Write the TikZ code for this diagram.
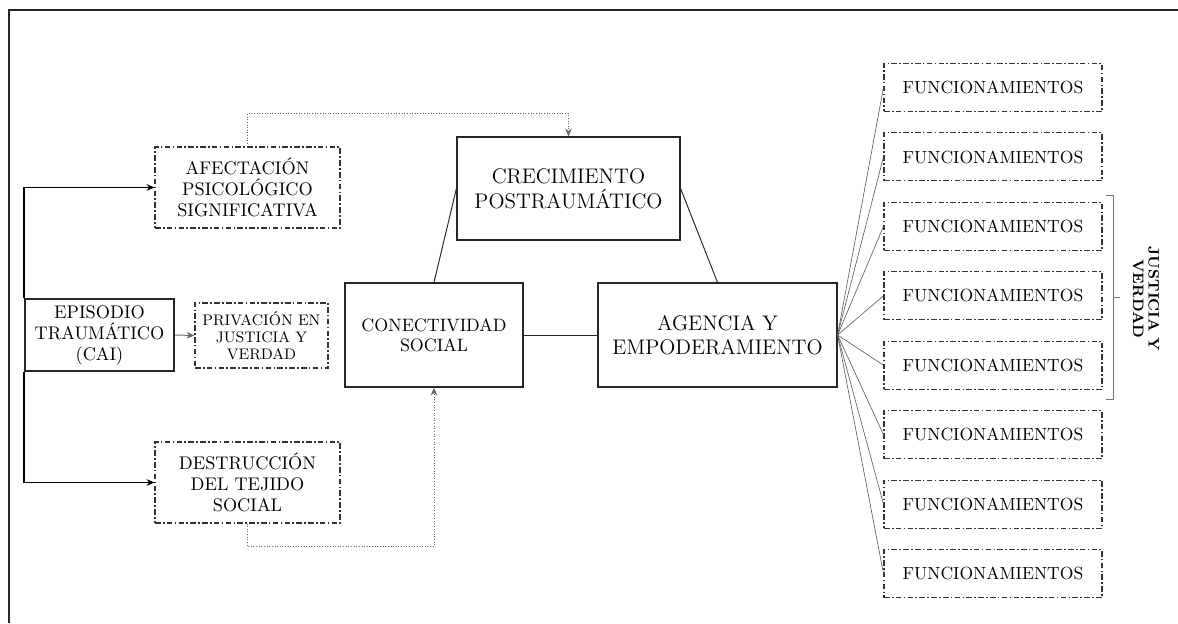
\documentclass[tikz,border=0pt]{standalone}
\usepackage{tikz}
\usetikzlibrary{matrix}
\usetikzlibrary{arrows.meta}
\usetikzlibrary{positioning}

\begin{document}
\begin{tikzpicture}[x=0.02cm,y=-0.02cm,
  box/.style={rectangle, draw=black!85, line width=0.7pt, align=center, inner sep=2pt},
  box1/.style={rectangle, draw=black!80, line width=0.6pt, align=center, inner sep=2pt,
    dash pattern=on 3.2pt off 1.3pt on 0.9pt off 1.3pt},
  func/.style={box1, minimum width=4.36cm, minimum height=0.96cm},
  fan/.style={draw=black!65, line width=0.35pt},
  link/.style={draw=black!85, line width=0.55pt},
  dots/.style={draw=black!60, line width=0.5pt, densely dotted},
  >={Stealth[length=4.5pt,width=3.8pt]}]
    \useasboundingbox (0,0) rectangle (1178,623);
    % marco
    \draw[black!85, line width=0.8pt] (1178,10) -- (9,10) -- (9,623);

    \node[box, minimum width=2.98cm, minimum height=1.44cm, font=\fontsize{10.4}{12}\selectfont] (epi) at (99.5,335) {EPISODIO\\TRAUMÁTICO\\(CAI)};
    \node[box1, minimum width=3.7cm, minimum height=1.62cm, font=\fontsize{10.4}{12}\selectfont] (afe) at (247.5,187.5) {AFECTACIÓN\\PSICOLÓGICO\\SIGNIFICATIVA};
    \node[box1, minimum width=2.66cm, minimum height=1.3cm, font=\fontsize{8.7}{9.7}\selectfont] (priv) at (261.5,335.5) {PRIVACIÓN EN\\JUSTICIA Y\\VERDAD};
    \node[box1, minimum width=3.7cm, minimum height=1.62cm, font=\fontsize{10.4}{12}\selectfont] (des) at (247.5,482.5) {DESTRUCCIÓN\\DEL TEJIDO\\SOCIAL};
    \node[box, minimum width=3.56cm, minimum height=2.08cm, font=\fontsize{10.2}{11.5}\selectfont] (con) at (434,335) {CONECTIVIDAD\\SOCIAL};
    \node[box, minimum width=4.46cm, minimum height=2.06cm, font=\large] (cre) at (568.5,188.5) {CRECIMIENTO\\POSTRAUMÁTICO};
    \node[box, minimum width=4.78cm, minimum height=2.08cm, font=\large] (age) at (717.5,335) {AGENCIA Y\\EMPODERAMIENTO};

    \matrix [row sep=0.408cm] (funcs) at (993,330.5) {
        \node[func] (f1) {FUNCIONAMIENTOS}; \\
        \node[func] (f2) {FUNCIONAMIENTOS}; \\
        \node[func] (f3) {FUNCIONAMIENTOS}; \\
        \node[func] (f4) {FUNCIONAMIENTOS}; \\
        \node[func] (f5) {FUNCIONAMIENTOS}; \\
        \node[func] (f6) {FUNCIONAMIENTOS}; \\
        \node[func] (f7) {FUNCIONAMIENTOS}; \\
        \node[func] (f8) {FUNCIONAMIENTOS}; \\
    };

    % llave
    \draw[black!55, line width=0.5pt] (1106,195) -- (1113,195) -- (1113,399) -- (1106,399);
    \draw[black!55, line width=0.5pt] (1113,297) -- (1120,297);
    \node[rotate=-90, align=center, font=\fontsize{8.6}{8.8}\selectfont\bfseries] (jv) at (1146,299) {JUSTICIA Y\\VERDAD};

    % conectores
    \draw[link, draw=black, line width=1.1pt, ->] (epi.north west) |- (afe.west);
    \draw[link, draw=black, line width=1.1pt, ->] (epi.south west) |- (des.west);
    \draw[link, draw=black!60, ->] (epi.east) -- (priv.west);
    \draw[dots, ->] (afe.north) -- ++(0,-33) -| (cre.north);
    \draw[dots, ->] (des.south) -- ++(0,23) -| (con.south);
    \draw[link] (con.north) -- (cre.west);
    \draw[link] (cre.east) -- (age.north);
    \draw[link] (con.east) -- (age.west);
    \foreach \i in {1,...,8}
        \draw[fan] (age.east) -- (f\i.west);

\end{tikzpicture}
\end{document}
